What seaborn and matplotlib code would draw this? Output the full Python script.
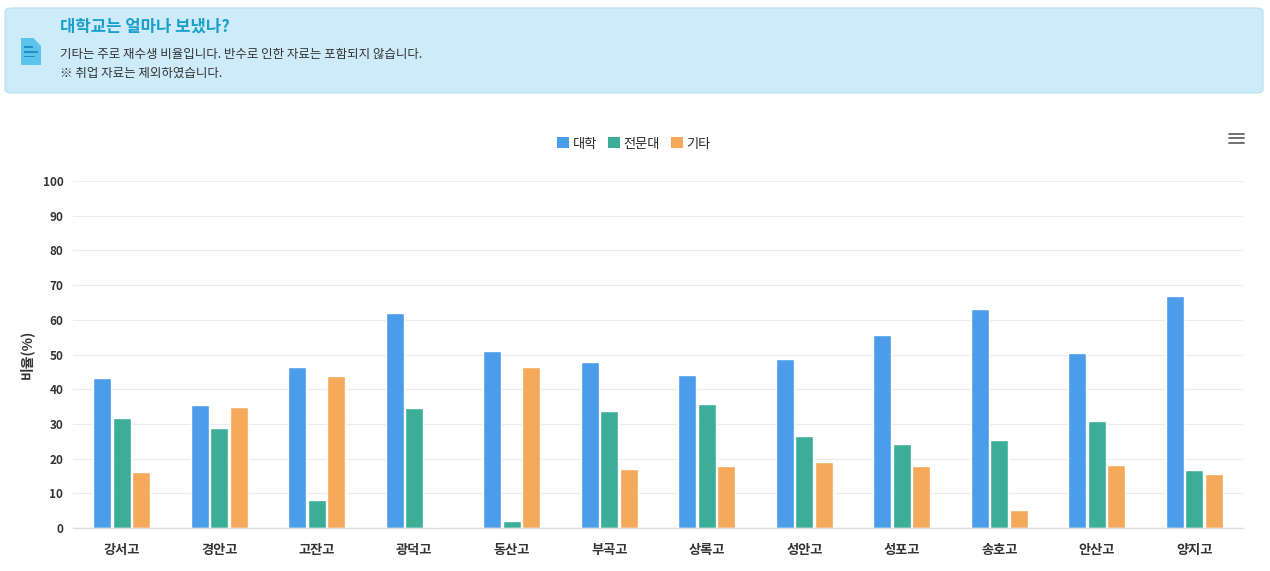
import numpy as np
import pandas as pd
import seaborn as sns
import matplotlib.pyplot as plt
from matplotlib.patches import FancyBboxPatch, Polygon, Rectangle

schools = ['강서고', '경안고', '고잔고', '광덕고', '동산고', '부곡고',
           '상록고', '성안고', '성포고', '송호고', '안산고', '양지고']
univ = [43.3, 35.4, 46.3, 62.0, 50.9, 47.8, 44.1, 48.8, 55.5, 63.0, 50.3, 66.9]
college = [31.8, 28.7, 8.0, 34.7, 2.0, 33.6, 35.6, 26.6, 24.2, 25.4, 30.7, 16.7]
etc = [16.2, 35.0, 43.7, 0.2, 46.3, 17.0, 17.9, 18.9, 18.0, 5.1, 18.2, 15.6]
groups = ['대학', '전문대', '기타']
colors = ['#4b9de9', '#3cae98', '#f5a95b']

df = pd.DataFrame({'학교': schools * 3,
                   '구분': [g for g in groups for _ in schools],
                   '비율': univ + college + etc})

sns.set_theme(style='white')
plt.rcParams['font.family'] = ['Noto Sans CJK KR', 'DejaVu Sans']

fig = plt.figure(figsize=(12.7, 5.71), dpi=100)

# info box on top
box = FancyBboxPatch((5 / 1270, 1 - 93 / 571), 1258 / 1270, 85 / 571,
                     boxstyle='round,pad=0,rounding_size=0.006',
                     transform=fig.transFigure, facecolor='#cdebf8',
                     edgecolor='#b5e0f0', linewidth=0.8)
fig.patches.append(box)
# little document icon
ix, iy = 21 / 1270, 1 - 65 / 571
w, h = 20 / 1270, 27 / 571
doc = Polygon([(ix, iy), (ix + w, iy), (ix + w, iy + h * 0.7),
               (ix + w * 0.62, iy + h), (ix, iy + h)],
              closed=True, transform=fig.transFigure,
              facecolor='#5cc3ec', edgecolor='none')
fig.patches.append(doc)
for yy, ln in [(0.62, 0.45), (0.45, 0.7), (0.28, 0.55)]:
    fig.patches.append(Rectangle((ix + w * 0.15, iy + h * yy), w * ln, h * 0.07,
                                 transform=fig.transFigure,
                                 facecolor='#1f8fc4', edgecolor='none'))
fig.text(60 / 1270, 1 - 27 / 571, '대학교는 얼마나 보냈나?', fontsize=12,
         fontweight='bold', color='#1a9fcc', va='center')
fig.text(60 / 1270, 1 - 54 / 571,
         '기타는 주로 재수생 비율입니다. 반수로 인한 자료는 포함되지 않습니다.',
         fontsize=9, color='#333333', va='center')
fig.text(60 / 1270, 1 - 73 / 571, '※ 취업 자료는 제외하였습니다.',
         fontsize=9, color='#333333', va='center')

# hamburger menu
for dy in [-4.5, 0, 4.5]:
    fig.add_artist(plt.Line2D([1229 / 1270, 1244 / 1270],
                              [1 - (138 + dy) / 571] * 2,
                              color='#666666', linewidth=1.3))

ax = fig.add_axes([73 / 1270, 43 / 571, 1170 / 1270, 347 / 571])
sns.barplot(data=df, x='학교', y='비율', hue='구분', palette=colors,
            width=0.6, gap=0.1, ax=ax, legend=False, saturation=1)

ax.set_ylim(0, 100)
ax.set_xlim(-0.5, len(schools) - 0.5)
ax.set_yticks(range(0, 101, 10))
ax.yaxis.grid(True, color='#ececec', linewidth=0.8)
ax.set_axisbelow(True)
for s in ['top', 'right', 'left']:
    ax.spines[s].set_visible(False)
ax.spines['bottom'].set_color('#dddddd')
ax.spines['bottom'].set_linewidth(1)
ax.set_xlabel('')
ax.set_ylabel('비율(%)', fontsize=10, fontweight='bold', color='#333333',
              labelpad=6)
ax.tick_params(axis='y', length=0, labelsize=8.5, labelcolor='#333333', pad=7)
ax.tick_params(axis='x', length=0, labelsize=9.5, labelcolor='#333333', pad=11)
for lab in ax.get_xticklabels() + ax.get_yticklabels():
    lab.set_fontweight('bold')
ax.set_xticks(np.arange(-0.5, len(schools), 1), minor=True)
ax.tick_params(axis='x', which='minor', length=6, color='#dddddd', width=1)

# legend
handles = [Rectangle((0, 0), 1, 1, facecolor=c, edgecolor='none') for c in colors]
fig.legend(handles, groups, loc='center', bbox_to_anchor=(634 / 1270, 1 - 144 / 571),
           ncol=3, frameon=False, fontsize=9.5, handlelength=0.9, handleheight=0.9,
           handletextpad=0.3, columnspacing=0.8)

fig.savefig('out.png', dpi=100)
